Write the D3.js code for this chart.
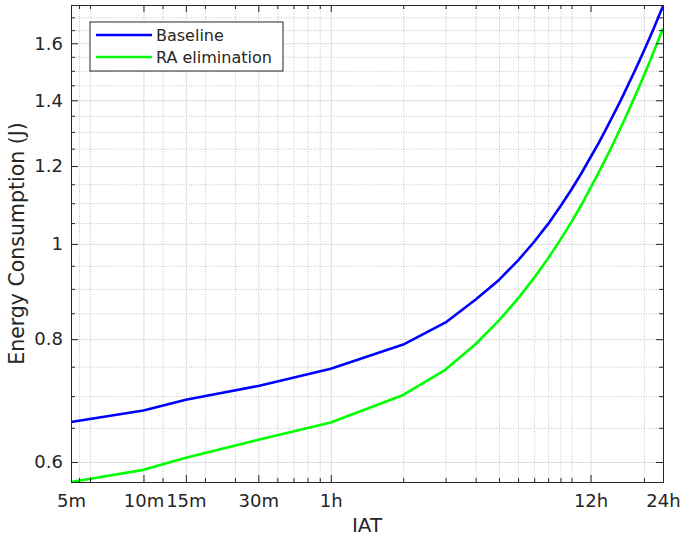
<!DOCTYPE html>
<html>
<head>
<meta charset="utf-8">
<script src="https://cdn.jsdelivr.net/npm/d3@7"></script>
<style>
  body { margin: 0; background: #fff; }
  svg text { font-family: "DejaVu Sans", sans-serif; fill: #262626; }
</style>
</head>
<body>
<div id="chart"></div>
<script>
// IAT in hours
const iat = [5 / 60, 10 / 60, 15 / 60, 0.5, 1, 2, 3, 4, 5, 6, 7, 8, 9, 10, 11, 12,
  13, 14, 15, 16, 17, 18, 19, 20, 21, 22, 23, 24]
const baseline = [0.659, 0.677, 0.694, 0.717, 0.7465, 0.790, 0.832, 0.878, 0.919, 0.962,
  1.005, 1.048, 1.092, 1.136, 1.180, 1.225, 1.268, 1.312, 1.356, 1.399, 1.443, 1.486,
  1.529, 1.572, 1.615, 1.658, 1.702, 1.745]
const raElim = [0.5725, 0.589, 0.606, 0.632, 0.658, 0.702, 0.745, 0.791, 0.836, 0.880,
  0.924, 0.967, 1.010, 1.053, 1.096, 1.140, 1.183, 1.226, 1.269, 1.312, 1.355, 1.398,
  1.441, 1.484, 1.527, 1.570, 1.613, 1.656]

const xTicks = [5 / 60, 10 / 60, 15 / 60, 0.5, 1, 12, 24]
const xTickLabels = ['5m', '10m', '15m', '30m', '1h', '12h', '24h']
const xMinor = [0.09, 0.1, 0.2, 0.3, 0.4, 0.6, 0.7, 0.8, 0.9, 2, 3, 4, 5, 6, 7, 8, 9, 10, 20]
const yTicks = [0.6, 0.8, 1, 1.2, 1.4, 1.6]
const yTickLabels = ['0.6', '0.8', '1', '1.2', '1.4', '1.6']
const yMinor = [0.65, 0.7, 0.75, 0.85, 0.9, 0.95, 1.05, 1.1, 1.15, 1.25, 1.3, 1.35,
  1.45, 1.5, 1.55, 1.65, 1.7]
const seriesNames = ['Baseline', 'RA elimination']
const seriesColors = ['#0000ff', '#00ff00']

const W = 681
const H = 536
const pl = 71
const pr = 663
const pt = 5
const pb = 482

const svg = d3.select('#chart').append('svg')
  .attr('width', W).attr('height', H)

const x = d3.scaleLog().domain([5 / 60, 24]).range([pl, pr])
const y = d3.scaleLog().domain([0.5725, 1.75]).range([pb, pt])

// grid
function grid (g, color, dash) {
  g.select('.domain').remove()
  g.selectAll('.tick line').attr('stroke', color).attr('stroke-width', 1)
    .attr('stroke-dasharray', dash)
}
svg.append('g').attr('transform', `translate(0,${pb})`)
  .call(d3.axisBottom(x).tickValues(xMinor).tickSize(-(pb - pt)).tickFormat(''))
  .call(grid, '#c4c4c4', '1,1.5')
svg.append('g').attr('transform', `translate(${pl},0)`)
  .call(d3.axisLeft(y).tickValues(yMinor).tickSize(-(pr - pl)).tickFormat(''))
  .call(grid, '#c4c4c4', '1,1.5')
svg.append('g').attr('transform', `translate(0,${pb})`)
  .call(d3.axisBottom(x).tickValues(xTicks).tickSize(-(pb - pt)).tickFormat(''))
  .call(grid, '#dedede', null)
svg.append('g').attr('transform', `translate(${pl},0)`)
  .call(d3.axisLeft(y).tickValues(yTicks).tickSize(-(pr - pl)).tickFormat(''))
  .call(grid, '#dedede', null)

// lines
const series = [baseline, raElim]
series.forEach(function (vals, i) {
  const line = d3.line()
    .x(function (d, j) { return x(iat[j]) })
    .y(function (d) { return y(d) })
  svg.append('path')
    .datum(vals)
    .attr('d', line)
    .attr('fill', 'none')
    .attr('stroke', seriesColors[i])
    .attr('stroke-width', 2.6)
    .attr('stroke-linejoin', 'round')
})

// axes with inward ticks
function styleAxis (g) {
  g.select('.domain').attr('stroke', '#262626').attr('stroke-width', 1)
  g.selectAll('.tick line').attr('stroke', '#262626').attr('stroke-width', 1)
  g.selectAll('.tick text').attr('font-size', 18).attr('fill', '#262626')
    .attr('font-family', '"DejaVu Sans", sans-serif')
}
const noLabel = function () { return '' }

svg.append('g').attr('transform', `translate(0,${pb})`)
  .call(d3.axisBottom(x).tickValues(xTicks).tickSizeInner(-7).tickSizeOuter(0)
    .tickPadding(12).tickFormat(function (d, i) { return xTickLabels[i] }))
  .call(styleAxis)
svg.append('g').attr('transform', `translate(0,${pb})`)
  .call(d3.axisBottom(x).tickValues(xMinor).tickSizeInner(-4).tickSizeOuter(0).tickFormat(noLabel))
  .call(styleAxis)
svg.append('g').attr('transform', `translate(0,${pt})`)
  .call(d3.axisTop(x).tickValues(xTicks).tickSizeInner(-7).tickSizeOuter(0).tickFormat(noLabel))
  .call(styleAxis)
svg.append('g').attr('transform', `translate(0,${pt})`)
  .call(d3.axisTop(x).tickValues(xMinor).tickSizeInner(-4).tickSizeOuter(0).tickFormat(noLabel))
  .call(styleAxis)

svg.append('g').attr('transform', `translate(${pl},0)`)
  .call(d3.axisLeft(y).tickValues(yTicks).tickSizeInner(-7).tickSizeOuter(0)
    .tickPadding(8).tickFormat(function (d, i) { return yTickLabels[i] }))
  .call(styleAxis)
svg.append('g').attr('transform', `translate(${pl},0)`)
  .call(d3.axisLeft(y).tickValues(yMinor).tickSizeInner(-4).tickSizeOuter(0).tickFormat(noLabel))
  .call(styleAxis)
svg.append('g').attr('transform', `translate(${pr},0)`)
  .call(d3.axisRight(y).tickValues(yTicks).tickSizeInner(-7).tickSizeOuter(0).tickFormat(noLabel))
  .call(styleAxis)
svg.append('g').attr('transform', `translate(${pr},0)`)
  .call(d3.axisRight(y).tickValues(yMinor).tickSizeInner(-4).tickSizeOuter(0).tickFormat(noLabel))
  .call(styleAxis)

// axis labels
svg.append('text')
  .attr('x', (pl + pr) / 2)
  .attr('y', 532)
  .attr('text-anchor', 'middle')
  .attr('font-size', 20)
  .text('IAT')

svg.append('text')
  .attr('transform', `translate(24,${(pt + pb) / 2}) rotate(-90)`)
  .attr('text-anchor', 'middle')
  .attr('font-size', 20.5)
  .text('Energy Consumption (J)')

// legend
const legend = svg.append('g').attr('transform', 'translate(90,22)')
legend.append('rect')
  .attr('width', 193).attr('height', 49)
  .attr('fill', '#fff').attr('stroke', '#262626').attr('stroke-width', 1)
seriesNames.forEach(function (name, i) {
  const ly = 13 + i * 22
  legend.append('line')
    .attr('x1', 6).attr('x2', 62).attr('y1', ly).attr('y2', ly)
    .attr('stroke', seriesColors[i]).attr('stroke-width', 2.6)
  legend.append('text')
    .attr('x', 66).attr('y', ly + 6)
    .attr('font-size', 16)
    .text(name)
})
</script>
</body>
</html>
